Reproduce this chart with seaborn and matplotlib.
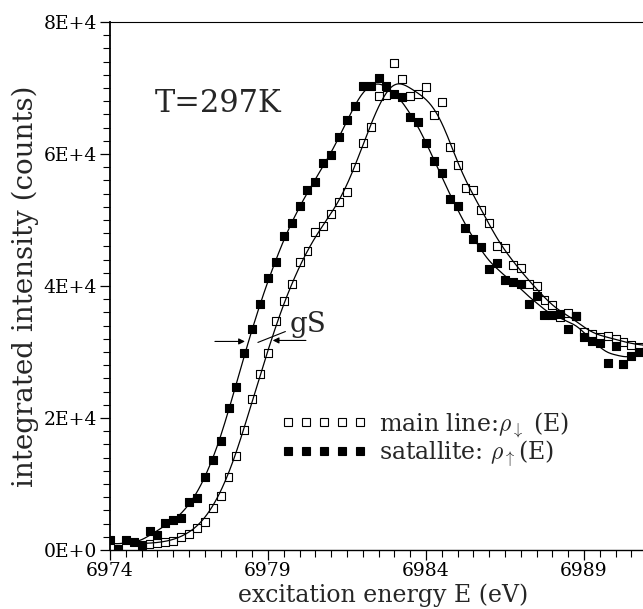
import numpy as np
import pandas as pd
import matplotlib
matplotlib.use("Agg")
import matplotlib.pyplot as plt
from matplotlib.lines import Line2D
from matplotlib.ticker import MultipleLocator, FixedLocator, FixedFormatter
import seaborn as sns

# Spectra sampled every 0.25 eV
energy_step = 0.25
satellite_start = 6974.0
main_start = 6975.25

# satellite: rho_up(E)  (filled squares)
satellite_counts = [
    1500, 200, 1500, 1200, 750, 2900, 2300, 4100, 4500, 4850,
    7300, 7900, 11060, 13640, 16500, 21500, 24700, 29850, 33500, 37270,
    41200, 43600, 47600, 49500, 52100, 54500, 55750, 58600, 59800, 62600,
    65100, 67300, 70300, 70300, 71500, 70300, 69100, 68600, 65600, 64800,
    61700, 58900, 57100, 53200, 52100, 48800, 47100, 45900, 42600, 43500,
    40900, 40600, 40300, 37300, 38500, 35600, 35600, 35750, 33500, 35450,
    32300, 31700, 31400, 28300, 30900, 28200, 29400, 30000,
]

# main line: rho_down(E)  (open squares)
main_counts = [
    900, 1050, 1200, 1350, 1950, 2400, 3300, 4200, 6350, 8200,
    11060, 14240, 18200, 22900, 26700, 29850, 34700, 37700, 40300, 43600,
    45300, 48200, 49100, 50900, 52700, 54200, 58000, 61700, 64100, 68800,
    68900, 73800, 71400, 68800, 69100, 70100, 65900, 67900, 61100, 58300,
    54800, 54500, 51500, 49500, 46100, 45800, 43200, 42700, 40300, 40000,
    37900, 37100, 35300, 35900, 35450, 33000, 32700, 32300, 32400, 32000,
    31500, 31100, 30800,
]

x_ticks = [6974, 6979, 6984, 6989]
x_tick_labels = ["6974", "6979", "6984", "6989"]
y_ticks = [0, 20000, 40000, 60000, 80000]
y_tick_labels = ["0E+0", "2E+4", "4E+4", "6E+4", "8E+4"]

sat_E = satellite_start + energy_step * np.arange(len(satellite_counts))
main_E = main_start + energy_step * np.arange(len(main_counts))
sat_df = pd.DataFrame({"E": sat_E, "I": satellite_counts})
main_df = pd.DataFrame({"E": main_E, "I": main_counts})


def kernel_smooth(x, y, grid, width):
    """Gaussian-weighted running average used for the guide curves."""
    x = np.asarray(x, float)
    y = np.asarray(y, float)
    w = np.exp(-0.5 * ((grid[:, None] - x[None, :]) / width) ** 2)
    return (w * y).sum(axis=1) / w.sum(axis=1)


x_lo, x_hi = 6974.0, 6974.0 + 533 / 31.6

sat_grid = np.linspace(sat_E.min(), x_hi, 400)
main_grid = np.linspace(main_E.min() - 0.2, x_hi, 400)
sat_fit = pd.DataFrame({"E": sat_grid,
                        "I": kernel_smooth(sat_E, satellite_counts, sat_grid, 0.28)})
main_fit = pd.DataFrame({"E": main_grid,
                         "I": kernel_smooth(main_E, main_counts, main_grid, 0.38)})

sns.set_theme(style="ticks")
plt.rcParams["font.family"] = ["DejaVu Serif"]
plt.rcParams["mathtext.fontset"] = "cm"
plt.rcParams["axes.unicode_minus"] = False

fig = plt.figure(figsize=(6.43, 6.09), dpi=100)
ax = fig.add_axes([110 / 643, 59 / 609, 533 / 643, 528 / 609])

sns.lineplot(data=sat_fit, x="E", y="I", color="black", lw=0.9,
             estimator=None, sort=False, ax=ax, legend=False)
sns.lineplot(data=main_fit, x="E", y="I", color="black", lw=0.9,
             estimator=None, sort=False, ax=ax, legend=False)
sns.scatterplot(data=sat_df, x="E", y="I", marker="s", s=32,
                color="black", edgecolor="black", linewidth=0.8, ax=ax,
                legend=False, zorder=3)
sns.scatterplot(data=main_df, x="E", y="I", marker="s", s=32,
                facecolor="none", edgecolor="black", linewidth=0.8, ax=ax,
                legend=False, zorder=3)

ax.set_xlim(x_lo, x_hi)
ax.set_ylim(0, 80000)
ax.xaxis.set_major_locator(FixedLocator(x_ticks))
ax.xaxis.set_major_formatter(FixedFormatter(x_tick_labels))
ax.yaxis.set_major_locator(FixedLocator(y_ticks))
ax.yaxis.set_major_formatter(FixedFormatter(y_tick_labels))
ax.xaxis.set_minor_locator(MultipleLocator(0.5))
ax.yaxis.set_minor_locator(MultipleLocator(2000))
ax.tick_params(which="major", direction="out", length=7.2, width=0.9,
               labelsize=13.5, color="black", labelcolor="black")
ax.tick_params(axis="x", which="major", pad=1.5)
ax.tick_params(axis="y", which="major", pad=2)
ax.tick_params(which="minor", direction="out", length=4.7, width=0.8,
               color="black")
ax.tick_params(top=False, right=False, which="both")

ax.spines["right"].set_visible(False)
ax.spines["left"].set_linewidth(1.3)
ax.spines["bottom"].set_linewidth(1.0)
ax.spines["top"].set_linewidth(0.8)
for s in ax.spines.values():
    s.set_color("black")

ax.set_xlabel("excitation energy E (eV)", fontsize=17)
ax.set_ylabel("integrated intensity (counts)", fontsize=20)
ax.xaxis.set_label_coords(0.512, -0.0985)
ax.xaxis.label.set_va("baseline")
ax.yaxis.set_label_coords(-0.159, 0.50)
ax.yaxis.label.set_va("center")

ax.text(6975.42, 66350, "T=297K", fontsize=22, ha="left", va="baseline")

# width marker between the two rising edges
arrow_kw = dict(arrowstyle="-|>", color="black", lw=0.8, mutation_scale=9,
                shrinkA=0, shrinkB=0)
ax.annotate("", xy=(6978.27, 31600), xytext=(6977.32, 31600),
            arrowprops=arrow_kw)
ax.annotate("", xy=(6979.15, 31750), xytext=(6980.2, 31750),
            arrowprops=arrow_kw)
ax.plot([6978.68, 6979.55], [31450, 33100], color="black", lw=0.8)
ax.text(6979.7, 33000, "gS", fontsize=20, ha="left", va="baseline")

handles = [
    Line2D([], [], ls="none", marker="s", markersize=5.7,
           markerfacecolor="none", markeredgecolor="black", markeredgewidth=0.8),
    Line2D([], [], ls="none", marker="s", markersize=5.7,
           markerfacecolor="black", markeredgecolor="black", markeredgewidth=0.8),
]
labels = [r"main line:$\rho_{\downarrow}$ (E)", r"satallite: $\rho_{\uparrow}$(E)"]
ax.legend(handles, labels, loc="upper left",
          bbox_to_anchor=(281 / 643, 1 - 410 / 609),
          bbox_transform=fig.transFigure, frameon=False, numpoints=5,
          handlelength=3.64, handletextpad=0.5, borderpad=0,
          borderaxespad=0, labelspacing=0.0, fontsize=17)

fig.savefig("out.png", dpi=100)
